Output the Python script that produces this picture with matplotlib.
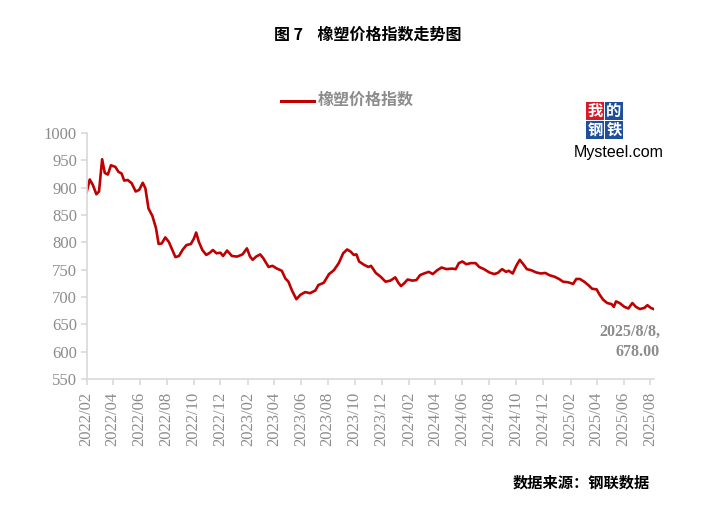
import matplotlib
matplotlib.use("Agg")
import matplotlib.pyplot as plt
from matplotlib.patches import Rectangle
import pandas as pd

dates = [
    "2022-02-01", "2022-02-08", "2022-02-15", "2022-02-23", "2022-03-01", "2022-03-08",
    "2022-03-14", "2022-03-21", "2022-03-28", "2022-04-07", "2022-04-14", "2022-04-21",
    "2022-04-27", "2022-05-05", "2022-05-14", "2022-05-23", "2022-05-31", "2022-06-08",
    "2022-06-14", "2022-06-21", "2022-06-30", "2022-07-08", "2022-07-14", "2022-07-21",
    "2022-07-29", "2022-08-06", "2022-08-14", "2022-08-21", "2022-08-29", "2022-09-06",
    "2022-09-15", "2022-09-25", "2022-10-02", "2022-10-07", "2022-10-13", "2022-10-21",
    "2022-10-30", "2022-11-07", "2022-11-14", "2022-11-22", "2022-12-01", "2022-12-07",
    "2022-12-16", "2022-12-27", "2023-01-08", "2023-01-20", "2023-01-30", "2023-02-06",
    "2023-02-12", "2023-02-20", "2023-03-01", "2023-03-08", "2023-03-20", "2023-03-29",
    "2023-04-08", "2023-04-19", "2023-04-27", "2023-05-04", "2023-05-12", "2023-05-22",
    "2023-05-31", "2023-06-11", "2023-06-22", "2023-07-04", "2023-07-11", "2023-07-23",
    "2023-08-04", "2023-08-15", "2023-08-26", "2023-09-05", "2023-09-14", "2023-09-22",
    "2023-09-29", "2023-10-05", "2023-10-11", "2023-10-22", "2023-11-01", "2023-11-07",
    "2023-11-18", "2023-11-29", "2023-12-10", "2023-12-21", "2024-01-01", "2024-01-08",
    "2024-01-14", "2024-01-21", "2024-01-29", "2024-02-09", "2024-02-18", "2024-02-26",
    "2024-03-06", "2024-03-17", "2024-03-26", "2024-04-05", "2024-04-15", "2024-04-26",
    "2024-05-08", "2024-05-17", "2024-05-24", "2024-06-01", "2024-06-10", "2024-06-20",
    "2024-07-01", "2024-07-09", "2024-07-20", "2024-08-01", "2024-08-12", "2024-08-20",
    "2024-08-30", "2024-09-08", "2024-09-14", "2024-09-23", "2024-10-01", "2024-10-09",
    "2024-10-17", "2024-10-25", "2024-11-04", "2024-11-15", "2024-11-26", "2024-12-06",
    "2024-12-15", "2024-12-27", "2025-01-06", "2025-01-15", "2025-01-26", "2025-02-07",
    "2025-02-14", "2025-02-22", "2025-03-04", "2025-03-13", "2025-03-22", "2025-04-01",
    "2025-04-08", "2025-04-16", "2025-04-25", "2025-05-05", "2025-05-10", "2025-05-15",
    "2025-05-23", "2025-06-03", "2025-06-12", "2025-06-21", "2025-06-29", "2025-07-08",
    "2025-07-18", "2025-07-25", "2025-08-02", "2025-08-08",
]
index_values = [
    892, 915, 905, 888, 893, 952,
    927, 924, 941, 938, 929, 926,
    913, 914, 908, 893, 896, 909,
    899, 862, 848, 826, 797, 798,
    809, 801, 786, 773, 775, 786,
    795, 797, 807, 818, 801, 786,
    777, 781, 786, 780, 781, 775,
    785, 775, 774, 778, 789, 774,
    768, 774, 778, 771, 755, 757,
    752, 748, 734, 728, 712, 696,
    704, 709, 707, 712, 722, 726,
    742, 749, 762, 780, 787, 783,
    777, 778, 765, 759, 755, 757,
    744, 737, 728, 730, 736, 726,
    720, 725, 732, 730, 731, 740,
    743, 746, 742, 749, 754, 751,
    752, 751, 762, 765, 760, 762,
    762, 755, 751, 745, 742, 744,
    751, 746, 748, 743, 757, 768,
    760, 751, 749, 745, 743, 744,
    740, 737, 733, 728, 727, 724,
    733, 733, 728, 722, 715, 714,
    704, 695, 689, 687, 682, 692,
    689, 682, 679, 689, 682, 678,
    680, 685, 680, 678,
]
tick_labels = ["2022/02", "2022/04", "2022/06", "2022/08", "2022/10", "2022/12",
               "2023/02", "2023/04", "2023/06", "2023/08", "2023/10", "2023/12",
               "2024/02", "2024/04", "2024/06", "2024/08", "2024/10", "2024/12",
               "2025/02", "2025/04", "2025/06", "2025/08"]
y_ticks = [550, 600, 650, 700, 750, 800, 850, 900, 950, 1000]

title = "图 7    橡塑价格指数走势图"
series_name = "橡塑价格指数"
source = "数据来源：钢联数据"
last_label = "2025/8/8,\n678.00"

cjk = ["Noto Sans CJK SC", "DejaVu Sans"]
serif = ["Liberation Serif", "DejaVu Serif"]
axis_gray = "#d9d9d9"
text_gray = "#8c8c8c"
red = "#C00000"
W, H = 711, 513

fig = plt.figure(figsize=(7.11, 5.13), dpi=100)
fig.patch.set_facecolor("white")
ax = fig.add_axes([0.1219, 0.2612, 0.9198 - 0.1219, 0.7407 - 0.2612])

x = pd.to_datetime(dates)
ax.plot(x, index_values, color=red, lw=1.9, solid_joinstyle="round")

ax.set_ylim(550, 1000)
ax.set_yticks(y_ticks)
ax.set_xlim(pd.Timestamp("2022-02-01"), pd.Timestamp("2025-08-09"))
tick_dates = pd.to_datetime([t.replace("/", "-") + "-01" for t in tick_labels])
ax.set_xticks(tick_dates)
ax.set_xticklabels(tick_labels, rotation=90)

for s in ["top", "right"]:
    ax.spines[s].set_visible(False)
for s in ["left", "bottom"]:
    ax.spines[s].set_color(axis_gray)
    ax.spines[s].set_linewidth(1.2)
ax.tick_params(axis="both", colors=axis_gray, length=4, width=1.2,
               labelcolor=text_gray, labelsize=12)
for lab in ax.get_xticklabels() + ax.get_yticklabels():
    lab.set_family(serif)
ax.tick_params(axis="x", pad=5)
ax.tick_params(axis="y", pad=3)

# Title
fig.text(368 / W, 1 - 35 / H, title, ha="center", va="center",
         fontsize=11.5, fontweight="bold", family=cjk, color="black")

# Legend
fig.add_artist(plt.Line2D([281 / W, 314 / W], [1 - 101 / H, 1 - 101 / H],
                          color=red, lw=2.2))
fig.text(318 / W, 1 - 100 / H, series_name, ha="left", va="center",
         fontsize=11.5, fontweight="bold", family=cjk, color=text_gray)

# Last value annotation
fig.text(660 / W, 1 - 342 / H, last_label, ha="right", va="center",
         multialignment="right", fontsize=11.5, fontweight="bold",
         family=serif, color=text_gray, linespacing=1.35)

# Source
fig.text(650 / W, 1 - 483 / H, source, ha="right", va="center",
         fontsize=11, fontweight="bold", family=cjk, color="black")

# Logo
boxes = [("我", 586, 102, "#d7192a"), ("的", 605, 102, "#1d4f9c"),
         ("钢", 586, 121, "#1d4f9c"), ("铁", 605, 121, "#1d4f9c")]
for ch, bx, by, col in boxes:
    fig.add_artist(Rectangle((bx / W, 1 - (by + 18) / H), 18 / W, 18 / H,
                             transform=fig.transFigure, facecolor=col,
                             edgecolor="none"))
    fig.text((bx + 9) / W, 1 - (by + 9) / H, ch, ha="center", va="center",
             fontsize=11, fontweight="bold", family=cjk, color="white")
fig.text(574 / W, 1 - 153 / H, "Mysteel.com", ha="left", va="center",
         fontsize=11.5, family=["Liberation Sans"], color="black")

fig.savefig("out.png", dpi=100, facecolor="white")
